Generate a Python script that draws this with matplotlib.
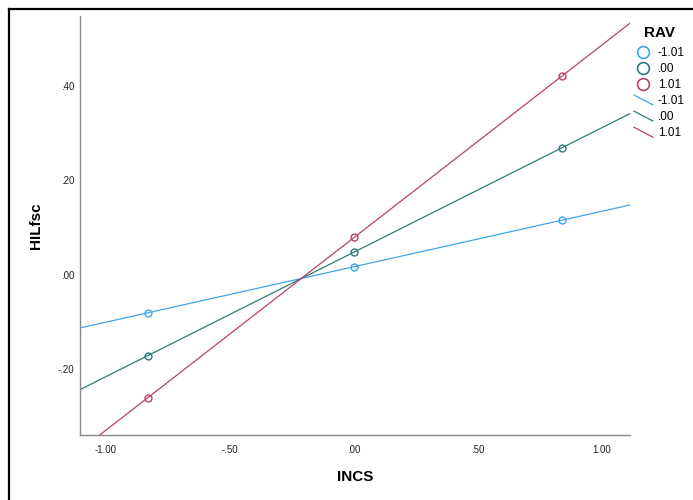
import numpy as np
import matplotlib
matplotlib.use("Agg")
import matplotlib.pyplot as plt
from matplotlib.lines import Line2D
from matplotlib.legend_handler import HandlerBase

plt.rcParams["font.family"] = ["Liberation Sans", "DejaVu Sans"]

# INCS at mean - SD, mean, mean + SD
incs = [-0.83, 0.00, 0.84]
rav_levels = ["-1.01", ".00", "1.01"]
hilfsc = {
    "-1.01": [-0.080, 0.017, 0.116],
    ".00": [-0.171, 0.049, 0.269],
    "1.01": [-0.260, 0.080, 0.421],
}
colors = {"-1.01": "#3fa6ec", ".00": "#2b7d7a", "1.01": "#b8416d"}

xticks = [-1.0, -0.5, 0.0, 0.5, 1.0]
yticks = [-0.2, 0.0, 0.2, 0.4]


def spss_fmt(v):
    s = "%.2f" % v
    return s.replace("0.", ".", 1)


class DiagLine(HandlerBase):
    def create_artists(self, legend, orig, xd, yd, w, h, fs, trans):
        ln = Line2D([-xd, -xd + w], [-yd + h * 1.1, -yd - h * 0.1],
                    color=orig.get_color(), lw=orig.get_linewidth())
        ln.set_transform(trans)
        return [ln]


fig = plt.figure(figsize=(6.93, 5.0), dpi=100)
ax = fig.add_axes([0.1154, 0.13, 0.7937, 0.838])

xmin, xmax = -1.105, 1.113
xx = np.array([xmin, xmax])
point_handles = []
line_handles = []
for lev in rav_levels:
    c = colors[lev]
    b, a = np.polyfit(incs, hilfsc[lev], 1)
    ln, = ax.plot(xx, a + b * xx, color=c, lw=0.9, label=lev)
    ax.plot(incs, hilfsc[lev], "o", mfc="none", mec=c, ms=5, mew=1.0)
    point_handles.append(Line2D([], [], marker="o", ls="none", mfc="none",
                                mec=c, ms=8.5, mew=1.2, label=lev))
    line_handles.append(ln)

ax.set_xlim(xmin, xmax)
ax.set_ylim(-0.339, 0.548)
ax.set_xticks(xticks)
ax.set_xticklabels([spss_fmt(v) for v in xticks])
ax.set_yticks(yticks)
ax.set_yticklabels([spss_fmt(v) for v in yticks])
ax.tick_params(length=0, labelsize=7, colors="#222222")
ax.tick_params(axis="x", pad=7)
ax.tick_params(axis="y", pad=4)
for side in ["top", "right"]:
    ax.spines[side].set_visible(False)
for side in ["left", "bottom"]:
    ax.spines[side].set_color("#888888")
    ax.spines[side].set_linewidth(1.0)

ax.set_xlabel("INCS", fontsize=11, fontweight="bold", labelpad=11)
ax.set_ylabel("HILfsc", fontsize=11, fontweight="bold", labelpad=11)

handles = point_handles + line_handles
labels = [h.get_label() for h in handles]
hmap = {h: DiagLine() for h in line_handles}
leg = fig.legend(handles, labels, loc="upper left",
                 bbox_to_anchor=(0.903, 0.965), frameon=False,
                 title="RAV", fontsize=8.5, handlelength=1.6,
                 handletextpad=0.4, labelspacing=0.35, borderpad=0.2,
                 handler_map=hmap)
leg.get_title().set_fontweight("bold")
leg.get_title().set_fontsize(11)
leg._legend_box.sep = 5

# border drawn by SPSS on the left and top
fig.add_artist(Line2D([0.013, 0.013], [0.0, 0.982], color="black", lw=1.6,
                      transform=fig.transFigure))
fig.add_artist(Line2D([0.013, 1.0], [0.982, 0.982], color="black", lw=1.6,
                      transform=fig.transFigure))

fig.savefig("out.png", dpi=100)
